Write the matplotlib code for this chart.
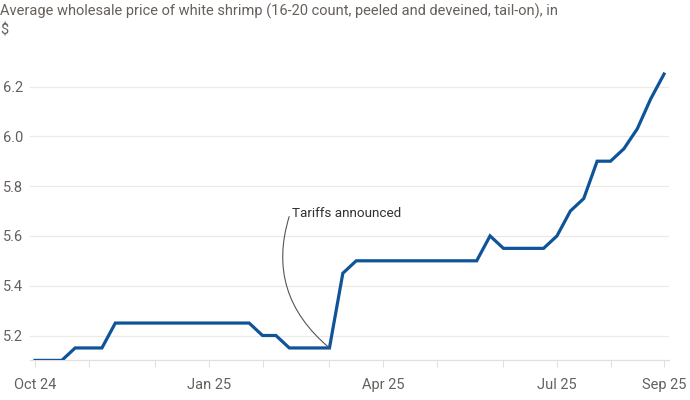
import matplotlib
matplotlib.use("Agg")
import matplotlib.pyplot as plt
from matplotlib import font_manager

# weekly prices, Oct 2024 - Sep 2025
prices = [5.10, 5.10, 5.10, 5.15, 5.15, 5.15,
          5.25, 5.25, 5.25, 5.25, 5.25, 5.25, 5.25, 5.25, 5.25, 5.25, 5.25,
          5.20, 5.20, 5.15, 5.15, 5.15, 5.15,
          5.45, 5.50, 5.50, 5.50, 5.50, 5.50, 5.50, 5.50, 5.50, 5.50, 5.50,
          5.60, 5.55, 5.55, 5.55, 5.55, 5.60,
          5.70, 5.75, 5.90, 5.90, 5.95, 6.03, 6.15, 6.25]
tick_idx = [0, 4, 9, 13, 17, 22, 26, 30, 35, 39, 43, 47]
tick_labels = ["Oct 24", "", "", "Jan 25", "", "", "Apr 25", "", "", "Jul 25", "", "Sep 25"]
y_ticks = [5.2, 5.4, 5.6, 5.8, 6.0, 6.2]
tariff_idx = 22
title = "Average wholesale price of white shrimp (16-20 count, peeled and deveined, tail-on), in\n$"

installed = {f.name for f in font_manager.fontManager.ttflist}
font = "Liberation Sans Narrow" if "Liberation Sans Narrow" in installed else "Roboto"
plt.rcParams["font.family"] = [font, "DejaVu Sans"]

GREY = "#66605c"
BLUE = "#0f5499"

fig = plt.figure(figsize=(6.9, 4.0), dpi=100)
ax = fig.add_axes([30 / 690, 0.099, 639 / 690, 0.747])

x = list(range(len(prices)))
ax.plot(x, prices, color=BLUE, linewidth=2.3, solid_joinstyle="miter", zorder=3)

ax.set_xlim(-0.374, 47.37)
ax.set_ylim(5.1, 6.3)
ax.set_yticks(y_ticks)
ax.set_yticklabels([f"{v:.1f}" for v in y_ticks])
ax.set_xticks(tick_idx)
ax.set_xticklabels(tick_labels)

ax.grid(axis="y", color="#ece9e6", linewidth=0.9)
ax.set_axisbelow(True)
for s in ["top", "right", "left"]:
    ax.spines[s].set_visible(False)
ax.spines["bottom"].set_color("#e3dfdb")
ax.spines["bottom"].set_linewidth(0.9)

ax.tick_params(axis="y", length=0, pad=5, labelsize=10.5, labelcolor=GREY)
ax.tick_params(axis="x", length=5, width=0.8, color="#e3dfdb", pad=8,
               labelsize=10.5, labelcolor=GREY)

ax.annotate("Tariffs announced", xy=(tariff_idx, prices[tariff_idx]),
            xytext=(19.2, 5.69), ha="left", va="center",
            fontsize=9.7, color="#33302e",
            arrowprops=dict(arrowstyle="-", color="#555555", lw=0.8,
                            relpos=(0, 0.9), shrinkA=0, shrinkB=0,
                            connectionstyle="arc3,rad=0.35"))

fig.text(0.0, 0.99, title, ha="left", va="top", fontsize=10.5,
         color=GREY, linespacing=1.4)

fig.savefig("out.png", dpi=100, facecolor="white")
